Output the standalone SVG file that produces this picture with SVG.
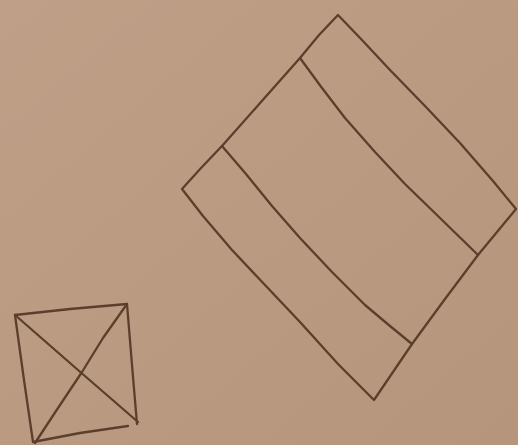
<svg xmlns="http://www.w3.org/2000/svg" width="518" height="445" viewBox="0 0 518 445">
<defs>
<linearGradient id="bg" x1="0" y1="0" x2="1" y2="1">
<stop offset="0" stop-color="#bf9f87"/>
<stop offset="0.5" stop-color="#ba9b81"/>
<stop offset="1" stop-color="#b5967c"/>
</linearGradient>
<style>
.ink{fill:none;stroke:#5b3f2c;stroke-width:2.3;stroke-linecap:round;stroke-linejoin:round}
</style>
</defs>
<rect width="518" height="445" fill="url(#bg)"/>
<g id="large-diamond">
<path class="ink" d="M338,15 L319,35 L300,58 L261,102 L222,146 L201,168 L182,189 L203,216 L232,250 L265,285 L300,322 L338,364 L374,400 L393,372 L412,344 L445,299 L478,255 L497,232 L516,209 L493,181 L460,143 L425,106 L390,70 L362,40 Z"/>
<path class="ink" d="M300,58 L322,88 L345,118 L375,152 L405,184 L440,218 L478,255"/>
<path class="ink" d="M222,146 L246,174 L272,206 L300,238 L332,272 L365,305 L390,326 L412,344"/>
</g>
<g id="small-square">
<path class="ink" d="M15,315 L70,309 L127,304 L132,365 L137,424"/>
<path class="ink" d="M15,315 L24,380 L33,442 L80,433 L128,426"/>
<path class="ink" d="M15,315 L78,370 L138,422"/>
<path class="ink" d="M127,304 L103,338 L82,372 L58,408 L35,443"/>
</g>
</svg>
